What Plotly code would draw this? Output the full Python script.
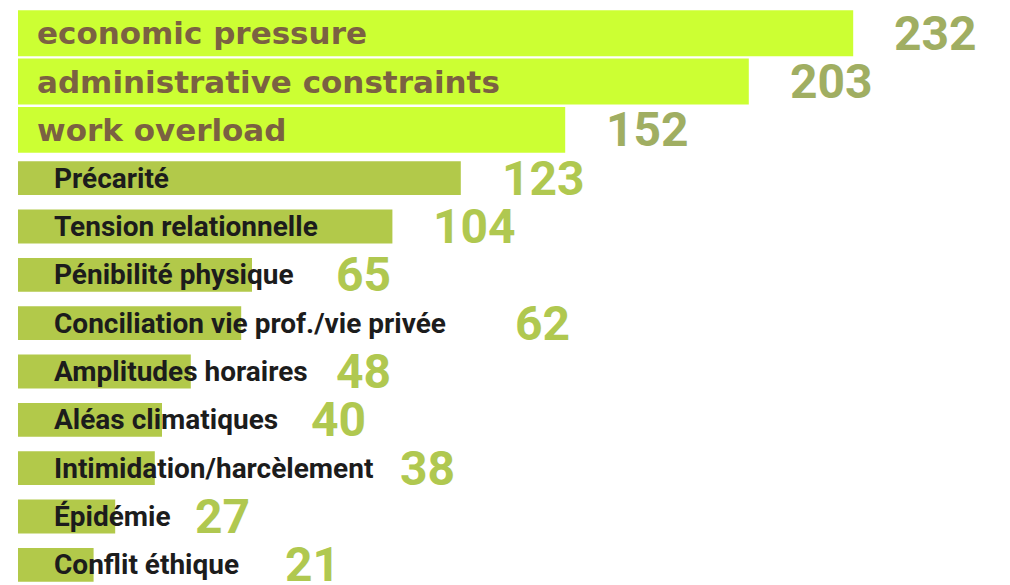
import plotly.graph_objects as go

categories = [
    "economic pressure", "administrative constraints", "work overload",
    "Précarité", "Tension relationnelle", "Pénibilité physique",
    "Conciliation vie prof./vie privée", "Amplitudes horaires",
    "Aléas climatiques", "Intimidation/harcèlement", "Épidémie", "Conflit éthique",
]
values = [232, 203, 152, 123, 104, 65, 62, 48, 40, 38, 27, 21]
n_top = 3

W, H = 1010, 585
ML, MR, MT, MB = 10, 0, 1, 4
plot_w = W - ML - MR
px_per_unit = 3.6
xmax = plot_w / px_per_unit

top_cats, top_vals = categories[:n_top], values[:n_top]
low_cats, low_vals = categories[n_top:], values[n_top:]

fig = go.Figure()
fig.add_trace(go.Bar(
    y=top_cats, x=top_vals, orientation="h", width=0.95,
    marker=dict(color="#CCFF33", line=dict(width=0)), hoverinfo="skip",
))
fig.add_trace(go.Bar(
    y=low_cats, x=low_vals, orientation="h", width=0.7,
    marker=dict(color="#B2C94A", line=dict(width=0)), hoverinfo="skip",
))

annotations = []
for c in top_cats:
    annotations.append(dict(
        x=0, y=c, xref="x", yref="y", text=c, showarrow=False,
        xanchor="left", yanchor="middle", xshift=17,
        font=dict(family="DejaVu Sans", size=31, color="#7B6142", weight="bold"),
    ))
low_text_shift = 34
char_px = 12.8
for c in low_cats:
    annotations.append(dict(
        x=0, y=c, xref="x", yref="y", text=c, showarrow=False,
        xanchor="left", yanchor="middle", xshift=low_text_shift,
        font=dict(family="Roboto, sans-serif", size=28, color="#1c1c1c", weight="bold"),
    ))

gap = 40
for i, (c, v) in enumerate(zip(categories, values)):
    if i < n_top:
        shift = gap
        col = "#A0AE62"
    else:
        text_end = low_text_shift + char_px * len(c)
        shift = max(0, text_end - v * px_per_unit) + gap
        col = "#B0C850"
    annotations.append(dict(
        x=v, y=c, xref="x", yref="y", text=str(v), showarrow=False,
        xanchor="left", yanchor="middle", xshift=shift, borderpad=0,
        font=dict(family="Roboto, Liberation Sans, sans-serif", size=48, color=col, weight="bold"),
    ))

fig.update_layout(
    width=W, height=H,
    margin=dict(l=ML, r=MR, t=MT, b=MB, autoexpand=False),
    paper_bgcolor="white", plot_bgcolor="white",
    showlegend=False, barmode="overlay",
    xaxis=dict(range=[0, xmax], visible=False, fixedrange=True),
    yaxis=dict(categoryorder="array", categoryarray=categories,
               range=[len(categories) - 0.5, -0.5],
               visible=False, fixedrange=True),
    annotations=annotations,
)

fig.write_html("out.html", config={"displayModeBar": False})
